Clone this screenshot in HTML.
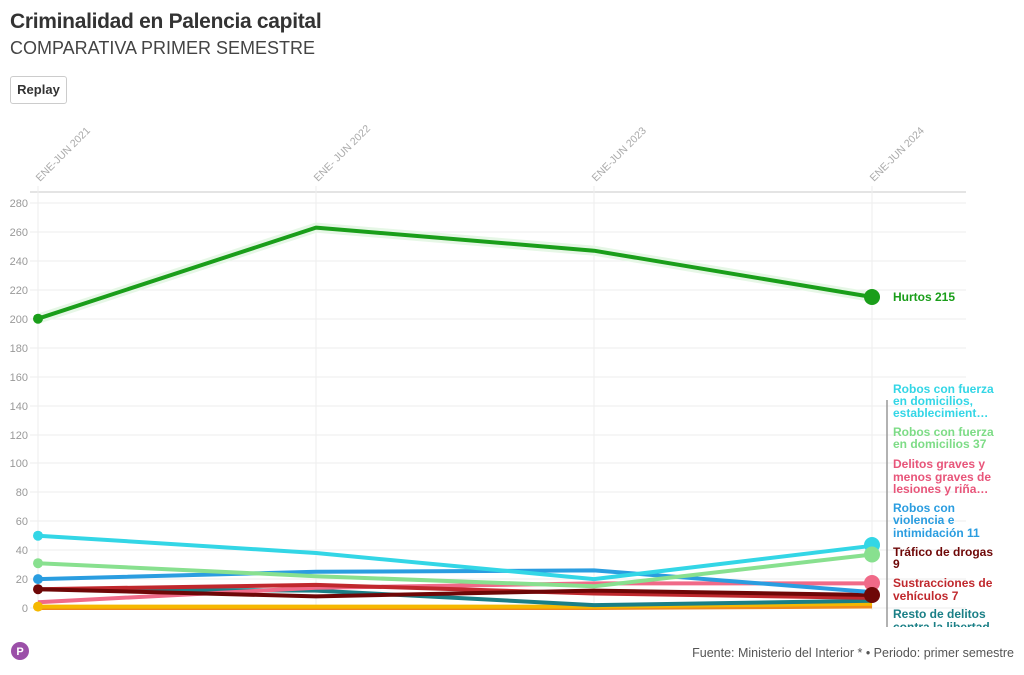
<!DOCTYPE html>
<html><head><meta charset="utf-8"><style>
body{margin:0;width:1024px;height:675px;background:#fff;font-family:"Liberation Sans",sans-serif;overflow:hidden;position:relative}
.t{position:absolute;left:10px;top:10px;font-size:21px;font-weight:bold;color:#333;letter-spacing:-0.3px}
.s{position:absolute;left:10px;top:38px;font-size:18px;color:#444}
.b{position:absolute;left:10px;top:76px;width:55px;height:26px;border:1px solid #ccc;border-radius:3px;font-size:13px;font-weight:bold;color:#333;text-align:center;line-height:26px}
.f{position:absolute;right:10px;top:646px;font-size:12.5px;color:#555}
</style></head><body>
<div class="t">Criminalidad en Palencia capital</div>
<div class="s">COMPARATIVA PRIMER SEMESTRE</div>
<div class="b">Replay</div>
<svg width="1024" height="675" style="position:absolute;left:0;top:0" font-family="Liberation Sans, sans-serif">
<g stroke="#eee" stroke-width="1">
<line x1="30" x2="966" y1="192" y2="192" stroke="#e4e4e4" stroke-width="2"/>
<line x1="30" x2="966" y1="203" y2="203"/><line x1="30" x2="966" y1="232" y2="232"/><line x1="30" x2="966" y1="261" y2="261"/><line x1="30" x2="966" y1="290" y2="290"/><line x1="30" x2="966" y1="319" y2="319"/><line x1="30" x2="966" y1="348" y2="348"/><line x1="30" x2="966" y1="377" y2="377"/><line x1="30" x2="966" y1="406" y2="406"/><line x1="30" x2="966" y1="435" y2="435"/><line x1="30" x2="966" y1="463" y2="463"/><line x1="30" x2="966" y1="492" y2="492"/><line x1="30" x2="966" y1="521" y2="521"/><line x1="30" x2="966" y1="550" y2="550"/><line x1="30" x2="966" y1="579" y2="579"/><line x1="30" x2="966" y1="608" y2="608"/>
<line x1="38" x2="38" y1="186" y2="610"/><line x1="316" x2="316" y1="186" y2="610"/><line x1="594" x2="594" y1="186" y2="610"/><line x1="872" x2="872" y1="186" y2="610"/>
</g>
<g font-size="11" fill="#999" text-anchor="end">
<text x="28" y="207">280</text><text x="28" y="236">260</text><text x="28" y="265">240</text><text x="28" y="294">220</text><text x="28" y="323">200</text><text x="28" y="352">180</text><text x="28" y="381">160</text><text x="28" y="410">140</text><text x="28" y="439">120</text><text x="28" y="467">100</text><text x="28" y="496">80</text><text x="28" y="525">60</text><text x="28" y="554">40</text><text x="28" y="583">20</text><text x="28" y="612">0</text>
</g>
<g font-size="10.5" fill="#aaa">
<text transform="translate(40,182) rotate(-45)">ENE-JUN 2021</text>
<text transform="translate(318,182) rotate(-45)">ENE- JUN 2022</text>
<text transform="translate(596,182) rotate(-45)">ENE-JUN 2023</text>
<text transform="translate(874,182) rotate(-45)">ENE-JUN 2024</text>
</g>
<g fill="none" stroke-width="4" stroke-linejoin="round">
<polyline points="38,608 316,608 594,608 872,606.5" stroke="#f08a1c"/>
<polyline points="38,606.6 316,606.6 594,606.6 872,603.7" stroke="#f5b800"/>
<polyline points="38,589.2 316,590.6 594,605.1 872,600.8" stroke="#1a7f86"/>
<polyline points="38,602.2 316,587.8 594,583.4 872,583.4" stroke="#f06a88"/>
<polyline points="38,589.2 316,584.9 594,593.5 872,597.9" stroke="#c0282d"/>
<polyline points="38,589.2 316,596.4 594,590.6 872,595" stroke="#6e0707"/>
<polyline points="38,579.1 316,571.8 594,570.4 872,592.1" stroke="#2a9de0"/>
<polyline points="38,563.2 316,576.2 594,586.3 872,554.5" stroke="#88e08f"/>
<polyline points="38,535.7 316,553 594,579.1 872,545.8" stroke="#33d6e6"/>
<polyline points="38,318.7 316,227.6 594,250.7 872,297" stroke="#e6f7e6" stroke-width="10"/>
<polyline points="38,318.7 316,227.6 594,250.7 872,297" stroke="#1a9e1a"/>
</g>
<circle cx="38" cy="318.7" r="5" fill="#1a9e1a"/><circle cx="38" cy="535.7" r="5" fill="#33d6e6"/><circle cx="38" cy="563.2" r="5" fill="#88e08f"/><circle cx="38" cy="579.1" r="5" fill="#2a9de0"/><circle cx="38" cy="589.2" r="5" fill="#6e0707"/><circle cx="38" cy="606.6" r="5" fill="#f5b800"/>
<circle cx="872" cy="297" r="8" fill="#1a9e1a"/><circle cx="872" cy="545" r="8" fill="#33d6e6"/><circle cx="872" cy="554.5" r="8" fill="#88e08f"/><circle cx="872" cy="583" r="8" fill="#f06a88"/><circle cx="872" cy="595" r="8" fill="#6e0707"/>
<text x="893" y="301" font-size="12" font-weight="bold" fill="#1a9e1a">Hurtos 215</text>
<line x1="887" x2="887" y1="400" y2="628" stroke="#999" stroke-width="1.5"/>
<g font-size="12" font-weight="bold">
<text fill="#33d6e6"><tspan x="893" y="393">Robos con fuerza</tspan><tspan x="893" y="405">en domicilios,</tspan><tspan x="893" y="417">establecimient…</tspan></text>
<text fill="#7ddc86"><tspan x="893" y="436">Robos con fuerza</tspan><tspan x="893" y="448">en domicilios 37</tspan></text>
<text fill="#e8557a"><tspan x="893" y="468">Delitos graves y</tspan><tspan x="893" y="481">menos graves de</tspan><tspan x="893" y="493">lesiones y riña…</tspan></text>
<text fill="#2a9de0"><tspan x="893" y="512">Robos con</tspan><tspan x="893" y="524">violencia e</tspan><tspan x="893" y="537">intimidación 11</tspan></text>
<text fill="#6e0707"><tspan x="893" y="556">Tráfico de drogas</tspan><tspan x="893" y="568">9</tspan></text>
<text fill="#c0282d"><tspan x="893" y="587">Sustracciones de</tspan><tspan x="893" y="600">vehículos 7</tspan></text>
<text fill="#1a7f86"><tspan x="893" y="618">Resto de delitos</tspan><tspan x="893" y="631">contra la libertad</tspan></text>
</g>
<rect x="880" y="627" width="144" height="30" fill="#fff"/>
<circle cx="20" cy="651" r="9" fill="#9b4fa8"/><text x="20" y="655" font-size="11" font-weight="bold" fill="#fff" text-anchor="middle">P</text>
</svg>
<div class="f">Fuente: Ministerio del Interior * • Periodo: primer semestre</div>
</body></html>
